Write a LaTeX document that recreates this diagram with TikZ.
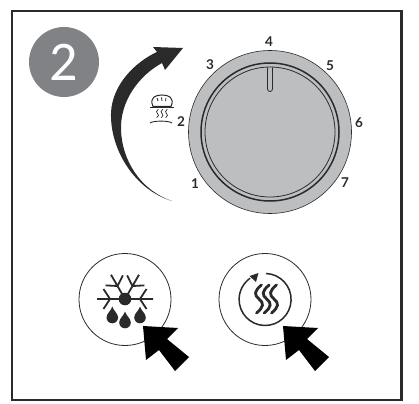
\documentclass[tikz,border=0pt]{standalone}
\usepackage{fontspec}
\setmainfont{Lato}
\newfontfamily\badgefont{Carlito}
\usepackage{tikz}
\usetikzlibrary{arrows.meta,positioning}
\definecolor{inkdark}{HTML}{2B2A2B}
\definecolor{badgegray}{HTML}{808285}
\definecolor{knobgray}{HTML}{BCBEC0}

\begin{document}
\begin{tikzpicture}[x=1pt, y=-1pt,
      num/.style={font=\fontsize{13.5}{13.5}\selectfont\bfseries, text=inkdark, inner sep=0pt},
      ring/.style={draw=inkdark, line width=0.8pt},
      steam/.style={draw=inkdark, line width=2.8pt, line cap=round},
      pics/press/.style={code={
        \fill[black] (0,0) -- (35,2) -- (24,13) -- (46,31) -- (32,45) -- (16,24) -- (3,34) -- cycle;}},
      pics/drop/.style={code={
        \fill[inkdark] (0,-11) .. controls (1,-7) and (5.8,-4) .. (5.8,0) .. controls (5.8,3.2) and (3.2,5.8) .. (0,5.8)
          .. controls (-3.2,5.8) and (-5.8,3.2) .. (-5.8,0) .. controls (-5.8,-4) and (-1,-7) .. (0,-11) -- cycle;}},
      pics/wave/.style={code={
        \draw[pic actions] (2.5,-14) .. controls (-5,-8) and (-5,-4) .. (0,0) .. controls (5,4) and (5,8) .. (-2.5,14);}}]
    \useasboundingbox (0,0) rectangle (419,403);
    \draw[draw=inkdark, line width=2.4pt] (12.2,11) rectangle (401.5,400);

    \node[circle, fill=badgegray, minimum size=70pt, inner sep=0pt, text=white,
      font=\badgefont\fontsize{56}{56}\selectfont] (badge) at (64,62) {2};

    % turning arrow
    \fill[inkdark] (172,201) .. controls (135,190) and (110,150) .. (111,113)
      .. controls (112,85) and (135,62) .. (157,52) -- (153,47) -- (183,48) -- (165,70) -- (162,63)
      .. controls (140,75) and (120,100) .. (121,130) .. controls (122,160) and (140,190) .. (172,201) -- cycle;

    % knob
    \node[circle, draw=inkdark, line width=0.6pt, fill=knobgray, minimum size=163pt, inner sep=0pt] (knob) at (270,132) {};
    \node[circle, draw=inkdark, line width=1.5pt, minimum size=138pt, inner sep=0pt] (ringout) at (knob) {};
    \node[circle, ring, minimum size=130pt, inner sep=0pt] (ringin) at (knob) {};
    \draw[ring, rounded corners=2.5pt] (267.5,67.5) -- (267.5,91.5) -- (272.5,91.5) -- (272.5,67.5);

    \foreach \name/\x/\y in {1/195/184, 2/181/122, 3/210/65, 4/269/42, 5/330/66, 6/359/123, 7/345/183}
      \node[num] (n\name) at (\x,\y) {\name};

    % bread
    \draw[inkdark, line width=1pt, fill=white] (153,106.5) .. controls (149,97) and (156,95) .. (162,95)
      .. controls (168,95) and (175,97) .. (171,106.5) -- cycle;
    \draw[inkdark, line width=0.8pt] (157,98) -- (158,101) (161.5,97.5) -- (162,101) (166,98) -- (165.5,101);
    \draw[inkdark, line width=0.8pt] (150,107) -- (174,107);
    \draw[inkdark, line width=0.9pt] (150,123) .. controls (153,120.5) and (169,120.5) .. (172,123);
    \foreach \x in {157.5,162,166.5}
      \pic[draw=inkdark, line width=0.7pt, scale=0.3] at (\x,113.5) {wave};

    % defrost button
    \node[circle, ring, minimum size=92pt, inner sep=0pt, fill=white] (defrost) at (125,299.5) {};
    \foreach \a in {0,60,120,180}
      \draw[inkdark, line width=1.8pt, shift={(125,299)}, rotate=\a] (0,0) -- (28,0)
        (15,0) -- (21.5,10) (15,0) -- (21.5,-10);
    \fill[inkdark] (125,299) circle[radius=6.3];
    \pic at (112.3,317.5) {drop};
    \pic at (125,322.5) {drop};
    \pic at (140,317.5) {drop};
    \pic at (143,326) {press};

    % reheat button
    \node[circle, ring, minimum size=92pt, inner sep=0pt, fill=white] (reheat) at (265,299.5) {};
    \draw[inkdark, line width=1.5pt] (266,273.5) arc[start angle=-88, end angle=235, radius=26];
    \fill[inkdark] (258.5,273) -- (249.5,276) -- (256,282) -- cycle;
    \foreach \x in {259,266.7,274}
      \pic[steam] at (\x,299) {wave};
    \pic at (283,326) {press};
  \end{tikzpicture}
\end{document}
